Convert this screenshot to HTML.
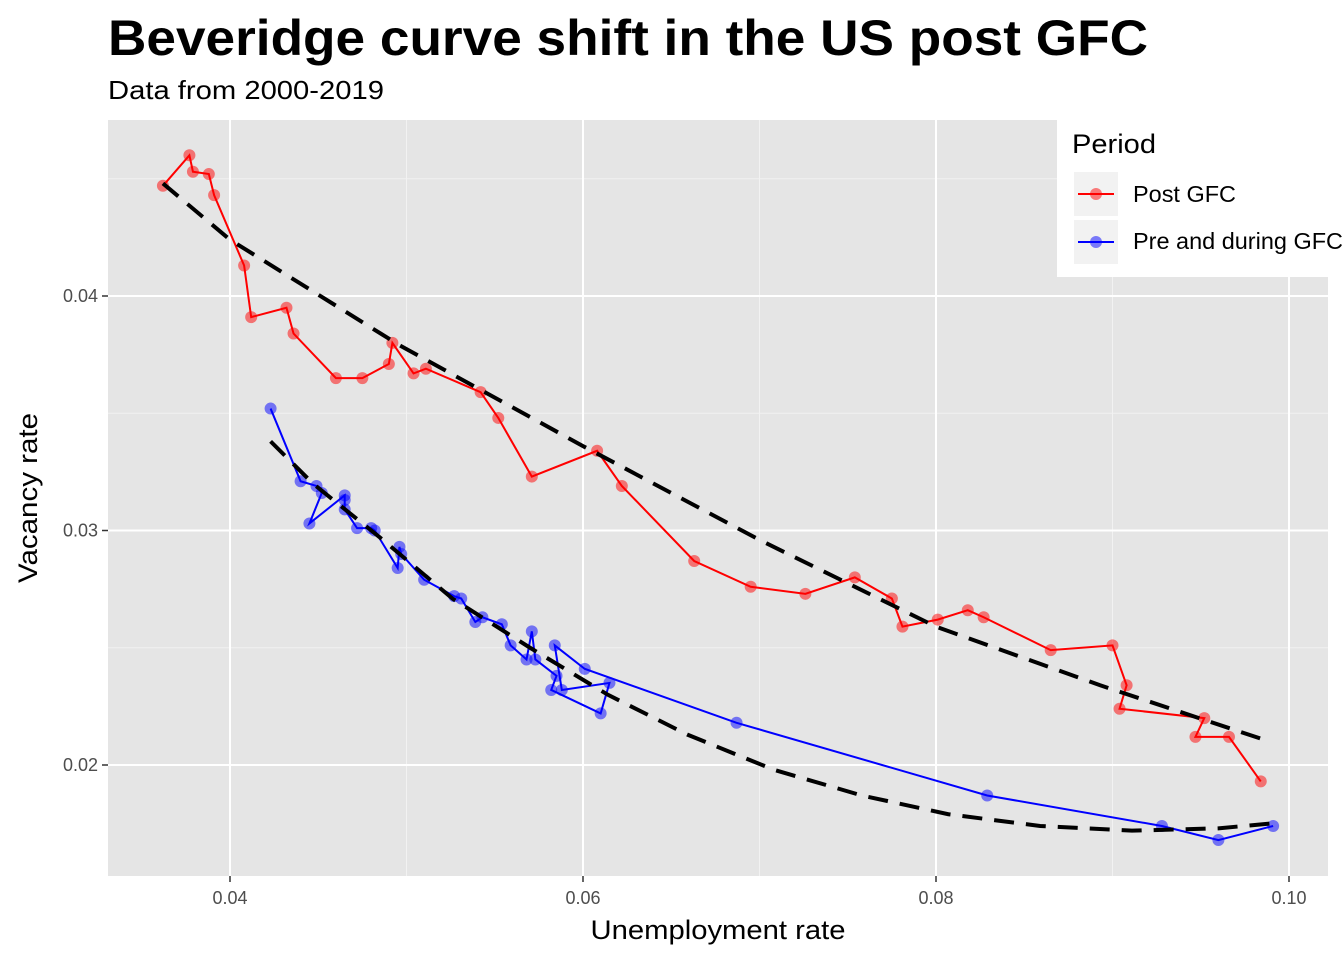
<!DOCTYPE html>
<html><head><meta charset="utf-8"><style>
body{margin:0;background:#fff;}
svg text{font-family:"Liberation Sans",Arial,sans-serif;}
</style></head><body>
<svg id="chart" width="1344" height="960" xmlns="http://www.w3.org/2000/svg">
<text x="108" y="55" font-size="50" font-weight="bold" fill="#000" textLength="1040" lengthAdjust="spacingAndGlyphs">Beveridge curve shift in the US post GFC</text>
<text x="108" y="99" font-size="26" fill="#000" textLength="276" lengthAdjust="spacingAndGlyphs">Data from 2000-2019</text>
<rect x="108" y="120" width="1220" height="756" fill="#e5e5e5"/>
<g id="grid"></g>
<g id="marks"></g>
<g id="axes"></g>
<text x="718" y="939" font-size="27" text-anchor="middle" fill="#000" textLength="255" lengthAdjust="spacingAndGlyphs">Unemployment rate</text>
<text transform="translate(37,498) rotate(-90)" font-size="27" text-anchor="middle" fill="#000" textLength="170" lengthAdjust="spacingAndGlyphs">Vacancy rate</text>
<g>
<rect x="1057" y="120" width="287" height="157" fill="#fff"/>
<text x="1072" y="153" font-size="27" textLength="84" lengthAdjust="spacingAndGlyphs">Period</text>
<rect x="1074" y="172" width="44" height="44" fill="#f2f2f2"/>
<line x1="1078" y1="194" x2="1114" y2="194" stroke="red" stroke-width="2"/>
<circle cx="1096" cy="194" r="6" fill="red" fill-opacity="0.5"/>
<text x="1133" y="202" font-size="23" textLength="103" lengthAdjust="spacingAndGlyphs">Post GFC</text>
<rect x="1074" y="220" width="44" height="44" fill="#f2f2f2"/>
<line x1="1078" y1="242" x2="1114" y2="242" stroke="blue" stroke-width="2"/>
<circle cx="1096" cy="242" r="6" fill="blue" fill-opacity="0.5"/>
<text x="1133" y="249" font-size="23" textLength="210" lengthAdjust="spacingAndGlyphs">Pre and during GFC</text>
</g>
</svg>
<script>
const xTicks=[0.04,0.06,0.08,0.10];
const xTickLabels=["0.04","0.06","0.08","0.10"];
const yTicks=[0.02,0.03,0.04];
const yTickLabels=["0.02","0.03","0.04"];
const postU=[0.0362,0.0377,0.0379,0.0388,0.0391,0.0408,0.0412,0.0432,0.0436,0.0460,0.0475,0.0490,0.0492,0.0504,0.0511,0.0542,0.0552,0.0571,0.0608,0.0622,0.0663,0.0695,0.0726,0.0754,0.0775,0.0781,0.0801,0.0818,0.0827,0.0865,0.0900,0.0908,0.0904,0.0952,0.0947,0.0966,0.0984];
const postV=[0.0447,0.0460,0.0453,0.0452,0.0443,0.0413,0.0391,0.0395,0.0384,0.0365,0.0365,0.0371,0.0380,0.0367,0.0369,0.0359,0.0348,0.0323,0.0334,0.0319,0.0287,0.0276,0.0273,0.0280,0.0271,0.0259,0.0262,0.0266,0.0263,0.0249,0.0251,0.0234,0.0224,0.0220,0.0212,0.0212,0.0193];
const preU=[0.0423,0.0440,0.0449,0.0452,0.0445,0.0465,0.0465,0.0465,0.0472,0.0480,0.0482,0.0495,0.0496,0.0497,0.0510,0.0527,0.0531,0.0539,0.0543,0.0554,0.0559,0.0568,0.0571,0.0573,0.0585,0.0582,0.0610,0.0615,0.0588,0.0584,0.0601,0.0687,0.0829,0.0928,0.0960,0.0991];
const preV=[0.0352,0.0321,0.0319,0.0316,0.0303,0.0315,0.0313,0.0309,0.0301,0.0301,0.0300,0.0284,0.0293,0.0290,0.0279,0.0272,0.0271,0.0261,0.0263,0.0260,0.0251,0.0245,0.0257,0.0245,0.0238,0.0232,0.0222,0.0235,0.0232,0.0251,0.0241,0.0218,0.0187,0.0174,0.0168,0.0174];
const postFitU=[0.0362,0.0400,0.0496,0.0600,0.0700,0.0800,0.0893,0.0985];
const postFitV=[0.0448,0.0424,0.0379,0.0336,0.0296,0.0259,0.0234,0.0211];
const preFitU=[0.0423,0.0447,0.0485,0.0526,0.0570,0.0614,0.0659,0.0708,0.0758,0.0807,0.0859,0.0911,0.0960,0.0989];
const preFitV=[0.0338,0.0320,0.0297,0.0271,0.0250,0.0230,0.0213,0.0198,0.0187,0.0179,0.0174,0.0172,0.0173,0.0175];

const NS="http://www.w3.org/2000/svg";
const X=v=>230+(v-0.04)*17650;
const Y=v=>296-(v-0.04)*23450;
function mk(tag,parent,attrs){const e=document.createElementNS(NS,tag);for(const k in attrs)e.setAttribute(k,attrs[k]);parent.appendChild(e);return e;}
const grid=document.getElementById('grid'),marks=document.getElementById('marks'),axes=document.getElementById('axes');
[0.05,0.07,0.09].forEach(v=>{const l=mk('line',grid,{x1:X(v),x2:X(v),y1:120,y2:876,stroke:'#f2f2f2','stroke-width':1});

});
[0.025,0.035,0.045].forEach(v=>{const l=mk('line',grid,{x1:108,x2:1328,y1:Y(v),y2:Y(v),stroke:'#f2f2f2','stroke-width':1});

});
xTicks.forEach((v,i)=>{const l=mk('line',grid,{x1:X(v),x2:X(v),y1:120,y2:876,stroke:'#fff','stroke-width':2});


mk('line',axes,{x1:X(v),x2:X(v),y1:876,y2:882,stroke:'#333','stroke-width':1.5});
const t=mk('text',axes,{x:X(v),y:904,'font-size':18,'text-anchor':'middle',fill:'#4d4d4d'});t.textContent=xTickLabels[i];

});
yTicks.forEach((v,i)=>{const l=mk('line',grid,{x1:108,x2:1328,y1:Y(v),y2:Y(v),stroke:'#fff','stroke-width':2});


mk('line',axes,{x1:102,x2:108,y1:Y(v),y2:Y(v),stroke:'#333','stroke-width':1.5});
const t=mk('text',axes,{x:98,y:Y(v)+6,'font-size':18,'text-anchor':'end',fill:'#4d4d4d'});t.textContent=yTickLabels[i];

});
function pts(us,vs){return us.map((u,i)=>X(u)+','+Y(vs[i])).join(' ');}
function series(us,vs,col,name){
const p=mk('polyline',marks,{points:pts(us,vs),fill:'none',stroke:col,'stroke-width':2});


us.forEach((u,i)=>{const c=mk('circle',marks,{cx:X(u),cy:Y(vs[i]),r:6,fill:col,'fill-opacity':0.5});

});}
series(postU,postV,'red','post-gfc');
series(preU,preV,'blue','pre-gfc');
function fit(us,vs,name){const p=mk('polyline',marks,{points:pts(us,vs),fill:'none',stroke:'#000','stroke-width':4,'stroke-dasharray':'20,12'});

}
fit(postFitU,postFitV,'post-gfc-trend-line');
fit(preFitU,preFitV,'pre-gfc-trend-line');
</script>
</body></html>
